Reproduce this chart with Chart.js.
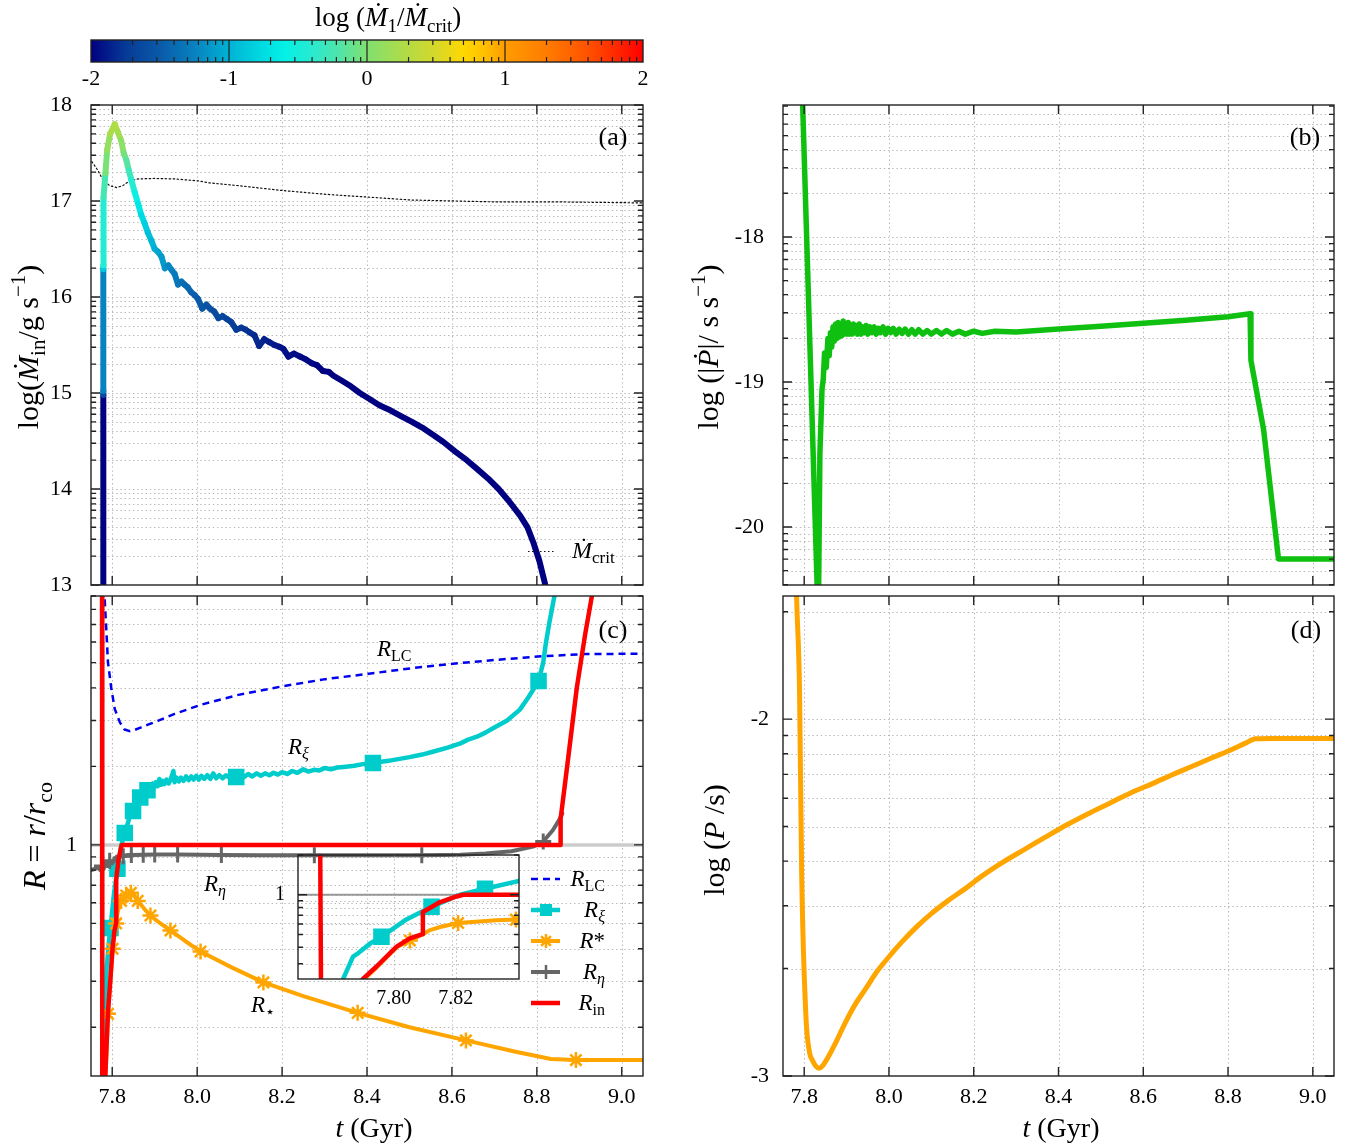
<!DOCTYPE html>
<html>
<head>
<meta charset="utf-8">
<title>Accretion and spin evolution</title>
<script src="https://cdn.jsdelivr.net/npm/chart.js@4.4.1/dist/chart.umd.min.js"></script>
<style>
  body { margin: 0; background: #fff; }
  #page { position: relative; width: 1352px; height: 1148px; }
  #page canvas { position: absolute; left: 0; top: 0; }
</style>
</head>
<body>
<div id="page">
  <canvas id="cbar" width="1352" height="1148"></canvas>
  <canvas id="pa" width="1352" height="1148"></canvas>
  <canvas id="pb" width="1352" height="1148"></canvas>
  <canvas id="pc" width="1352" height="1148"></canvas>
  <canvas id="pd" width="1352" height="1148"></canvas>
  <canvas id="pin" width="1352" height="1148"></canvas>
</div>
<script>
var W = 1352, H = 1148;
var FAMILY = '"Liberation Serif", "Times New Roman", serif';

// shared time axis (Gyr)
var tMin = 7.75, tMax = 9.05;
var timeTicks = [7.8, 8.0, 8.2, 8.4, 8.6, 8.8, 9.0];

// colour bar, log(Mdot_1/Mdot_crit)
var barTicks = [-2, -1, 0, 1, 2];
var cmapStops = [
  [-2, '#000080'], [-1.75, '#063a96'], [-1.5, '#0a5aa8'], [-1.25, '#0882c0'],
  [-1, '#00b2d4'], [-0.75, '#00dce2'], [-0.6, '#04f0e6'], [-0.4, '#28ead0'],
  [-0.2, '#50e4a8'], [0, '#80e070'], [0.25, '#acdc4a'], [0.5, '#d6d82a'],
  [0.7, '#ffd800'], [0.85, '#ffc000'], [1, '#ff9c00'], [1.3, '#ff7c00'],
  [1.6, '#ff5200'], [2, '#ff0000']
];

// (a) log Mdot_in (g/s), coloured by log(Mdot_1/Mdot_crit)
var tIn = [7.7790, 7.7790, 7.7790, 7.7790, 7.7791, 7.7795, 7.7840, 7.7880, 7.7950, 7.8060,
  7.8130, 7.8210, 7.8270, 7.8330, 7.8390, 7.8450, 7.8530, 7.8610, 7.8680, 7.8760,
  7.8840, 7.8920, 7.9000, 7.9080, 7.9160, 7.9240, 7.9320, 7.9400, 7.9470, 7.9550,
  7.9630, 7.9700, 7.9780, 7.9860, 7.9940, 8.0020, 8.0120, 8.0220, 8.0300, 8.0400,
  8.0500, 8.0600, 8.0700, 8.0800, 8.0920, 8.1040, 8.1140, 8.1240, 8.1350, 8.1460,
  8.1580, 8.1700, 8.1820, 8.1940, 8.2030, 8.2150, 8.2280, 8.2420, 8.2560, 8.2700,
  8.2820, 8.2960, 8.3100, 8.3210, 8.3400, 8.3620, 8.3830, 8.4050, 8.4300, 8.4550,
  8.4800, 8.5060, 8.5300, 8.5570, 8.5800, 8.6080, 8.6350, 8.6590, 8.6850, 8.7100,
  8.7350, 8.7610, 8.7780, 8.7920, 8.8060, 8.8200, 8.8260];
var logMdotIn = [12.90, 14.98, 15.02, 16.29, 16.33, 17.04, 17.29, 17.53, 17.70, 17.80,
  17.72, 17.63, 17.50, 17.43, 17.32, 17.22, 17.09, 16.97, 16.86, 16.77,
  16.67, 16.59, 16.50, 16.47, 16.42, 16.30, 16.33, 16.28, 16.24, 16.13,
  16.16, 16.13, 16.10, 16.05, 16.02, 15.98, 15.88, 15.92, 15.88, 15.85,
  15.78, 15.80, 15.77, 15.74, 15.66, 15.68, 15.66, 15.63, 15.60, 15.49,
  15.56, 15.53, 15.50, 15.48, 15.46, 15.38, 15.41, 15.38, 15.35, 15.31,
  15.29, 15.23, 15.22, 15.18, 15.13, 15.07, 15.00, 14.94, 14.87, 14.82,
  14.76, 14.70, 14.64, 14.56, 14.49, 14.39, 14.30, 14.21, 14.11, 14.00,
  13.87, 13.72, 13.60, 13.44, 13.25, 13.00, 12.90];
var logRatio = [-2.00, -2.00, -1.25, -1.25, -0.45, -0.40, -0.10, 0.05, 0.20, 0.30,
  0.25, 0.15, 0.00, -0.10, -0.25, -0.35, -0.50, -0.62, -0.72, -0.80,
  -0.88, -0.95, -1.00, -1.05, -1.10, -1.15, -1.20, -1.25, -1.28, -1.32,
  -1.35, -1.38, -1.40, -1.43, -1.46, -1.49, -1.52, -1.55, -1.57, -1.60,
  -1.62, -1.64, -1.67, -1.70, -1.72, -1.75, -1.77, -1.79, -1.81, -1.83,
  -1.85, -1.87, -1.89, -1.90, -1.92, -1.93, -1.94, -1.95, -1.96, -1.97,
  -1.98, -1.99, -2.00, -2.00, -2.00, -2.00, -2.00, -2.00, -2.00, -2.00,
  -2.00, -2.00, -2.00, -2.00, -2.00, -2.00, -2.00, -2.00, -2.00, -2.00,
  -2.00, -2.00, -2.00, -2.00, -2.00, -2.00, -2.00];
var tCrit = [7.752, 7.766, 7.778, 7.794, 7.810, 7.825, 7.841, 7.861, 7.900, 7.947,
  8.002, 8.026, 8.097, 8.199, 8.302, 8.404, 8.506, 8.608, 8.710, 8.863, 9.050];
var logMdotCrit = [17.41, 17.32, 17.22, 17.16, 17.14, 17.16, 17.21, 17.23, 17.235, 17.23,
  17.21, 17.19, 17.16, 17.11, 17.07, 17.04, 17.01, 17.00, 16.99, 16.99, 16.98];

// (b) log |Pdot| (s/s)
var tPdot = [7.796, 7.831, 7.834, 7.837, 7.842, 7.845, 7.848, 7.852, 7.856, 7.859,
  7.862, 7.865, 7.868, 7.871, 7.874, 7.877, 7.880, 7.883, 7.886, 7.889,
  7.892, 7.895, 7.898, 7.901, 7.904, 7.907, 7.910, 7.913, 7.916, 7.919,
  7.922, 7.926, 7.930, 7.934, 7.938, 7.942, 7.946, 7.950, 7.955, 7.960,
  7.965, 7.970, 7.975, 7.980, 7.986, 7.992, 7.998, 8.004, 8.010, 8.017,
  8.024, 8.031, 8.038, 8.046, 8.054, 8.062, 8.070, 8.080, 8.090, 8.100,
  8.112, 8.124, 8.136, 8.150, 8.165, 8.180, 8.200, 8.220, 8.250, 8.300,
  8.400, 8.500, 8.600, 8.700, 8.800, 8.852, 8.854, 8.884, 8.919, 9.060];
var logPdot = [-17.05, -20.45, -20.45, -19.50, -19.05, -18.98, -18.80, -18.90, -18.70, -18.82,
  -18.66, -18.76, -18.62, -18.72, -18.60, -18.70, -18.59, -18.69, -18.60, -18.68,
  -18.58, -18.67, -18.60, -18.67, -18.59, -18.67, -18.61, -18.67, -18.60, -18.66,
  -18.61, -18.67, -18.60, -18.67, -18.62, -18.66, -18.61, -18.67, -18.62, -18.66,
  -18.62, -18.67, -18.63, -18.66, -18.62, -18.67, -18.63, -18.66, -18.63, -18.67,
  -18.635, -18.665, -18.635, -18.67, -18.64, -18.67, -18.64, -18.67, -18.645, -18.67,
  -18.645, -18.67, -18.645, -18.67, -18.65, -18.67, -18.65, -18.665, -18.65, -18.655,
  -18.635, -18.615, -18.595, -18.575, -18.55, -18.53, -18.85, -19.33, -20.22, -20.22];

// (d) log P (s)
var tP = [7.781, 7.782, 7.789, 7.794, 7.804, 7.812, 7.820, 7.828, 7.835, 7.843,
  7.855, 7.875, 7.895, 7.920, 7.946, 7.970, 7.997, 8.030, 8.067, 8.100,
  8.138, 8.180, 8.219, 8.270, 8.320, 8.370, 8.420, 8.470, 8.522, 8.570,
  8.623, 8.670, 8.724, 8.765, 8.805, 8.840, 8.865, 8.905, 9.060];
var logP = [-1.60, -1.655, -1.92, -2.43, -2.83, -2.93, -2.957, -2.973, -2.978, -2.972,
  -2.95, -2.905, -2.855, -2.80, -2.754, -2.71, -2.67, -2.625, -2.58, -2.545,
  -2.51, -2.475, -2.44, -2.40, -2.365, -2.33, -2.296, -2.265, -2.235, -2.207,
  -2.18, -2.155, -2.128, -2.107, -2.087, -2.068, -2.055, -2.054, -2.054];

// (c) radii in units of the corotation radius
var tLC = [7.7805, 7.782, 7.786, 7.790, 7.798, 7.806, 7.818, 7.829, 7.841, 7.853,
  7.868, 7.884, 7.910, 7.947, 8.010, 8.097, 8.199, 8.302, 8.404, 8.506,
  8.608, 8.710, 8.812, 8.914, 9.060];
var rLC = [12, 8.9, 6.7, 5.0, 3.96, 3.32, 2.95, 2.77, 2.73, 2.76,
  2.82, 2.89, 3.0, 3.18, 3.45, 3.76, 4.05, 4.32, 4.53, 4.76,
  4.96, 5.13, 5.29, 5.39, 5.41];

var tXi = [7.7815, 7.7836, 7.7868, 7.7884, 7.7925, 7.796, 7.8036, 7.8122, 7.8214, 7.8295,
  7.8405, 7.849, 7.858, 7.866, 7.872, 7.877, 7.883, 7.887, 7.891, 7.895,
  7.899, 7.903, 7.907, 7.911, 7.915, 7.919, 7.923, 7.928, 7.933, 7.938,
  7.944, 7.947, 7.952, 7.957, 7.962, 7.968, 7.974, 7.980, 7.986, 7.992,
  7.998, 8.004, 8.010, 8.017, 8.024, 8.031, 8.038, 8.045, 8.052, 8.060,
  8.068, 8.076, 8.084, 8.092, 8.100, 8.110, 8.120, 8.130, 8.140, 8.150,
  8.160, 8.170, 8.180, 8.190, 8.200, 8.212, 8.224, 8.236, 8.250, 8.262,
  8.275, 8.288, 8.300, 8.315, 8.330, 8.345, 8.370, 8.390, 8.414, 8.450,
  8.500, 8.530, 8.557, 8.590, 8.620, 8.640, 8.659, 8.680, 8.700, 8.730,
  8.760, 8.781, 8.804, 8.815, 8.821, 8.830, 8.842, 8.850];
var rXi = [0.12, 0.23, 0.34, 0.36, 0.43, 0.48, 0.64, 0.81, 1.0, 1.11,
  1.27, 1.35, 1.46, 1.52, 1.60, 1.56, 1.62, 1.70, 1.63, 1.72,
  1.66, 1.74, 1.68, 1.79, 1.70, 1.76, 1.71, 1.78, 1.72, 1.79,
  1.92, 1.74, 1.81, 1.75, 1.81, 1.76, 1.83, 1.77, 1.83, 1.78,
  1.84, 1.78, 1.84, 1.79, 1.85, 1.79, 1.88, 1.80, 1.85, 1.80,
  1.85, 1.81, 1.85, 1.82, 1.86, 1.82, 1.87, 1.83, 1.88, 1.84,
  1.88, 1.85, 1.89, 1.86, 1.90, 1.87, 1.92, 1.89, 1.95, 1.91,
  1.94, 1.93, 1.97, 1.95, 1.98, 1.99, 2.01, 2.04, 2.06, 2.10,
  2.17, 2.22, 2.28, 2.36, 2.45, 2.54, 2.60, 2.70, 2.82, 3.00,
  3.30, 3.70, 4.25, 5.0, 5.9, 7.2, 9.1, 11];

var tStar = [7.7835, 7.7900, 7.7944, 7.8009, 7.8052, 7.8093, 7.8117, 7.8150, 7.8208, 7.8310,
  7.8330, 7.8395, 7.8440, 7.8520, 7.8600, 7.8750, 7.8900, 7.9100, 7.9370, 7.9700,
  8.0080, 8.0800, 8.1560, 8.2500, 8.3780, 8.5000, 8.6330, 8.7500, 8.8330, 8.8920, 9.0600];
var rStar = [0.12, 0.225, 0.28, 0.40, 0.45, 0.50, 0.54, 0.57, 0.61, 0.635,
  0.64, 0.648, 0.655, 0.64, 0.61, 0.57, 0.536, 0.505, 0.47, 0.43,
  0.39, 0.34, 0.297, 0.263, 0.227, 0.20, 0.178, 0.161, 0.151, 0.1496, 0.1496];

var tEta = [7.750, 7.760, 7.766, 7.772, 7.776, 7.780, 7.785, 7.789, 7.794, 7.800,
  7.806, 7.810, 7.816, 7.826, 7.835, 7.845, 7.873, 7.900, 7.954, 8.057,
  8.150, 8.276, 8.400, 8.529, 8.620, 8.680, 8.740, 8.791, 8.815, 8.838,
  8.853, 8.860];
var rEta = [0.80, 0.81, 0.82, 0.80, 0.83, 0.81, 0.86, 0.83, 0.87, 0.85,
  0.89, 0.87, 0.90, 0.905, 0.912, 0.915, 0.917, 0.918, 0.918, 0.915,
  0.913, 0.912, 0.912, 0.912, 0.916, 0.926, 0.945, 0.985, 1.03, 1.14,
  1.25, 1.32];

var tRin = [7.7760, 7.7766, 7.7830, 7.7835, 7.7900, 7.7944, 7.8009, 7.8052, 7.8093, 7.8094,
  7.8150, 7.8203, 7.8225, 8.8550, 8.8560, 8.8730, 8.8940, 8.9140, 8.9300, 8.9350];
var rIn = [12, 0.05, 0.05, 0.128, 0.23, 0.286, 0.404, 0.467, 0.503, 0.74,
  0.88, 0.97, 1.0, 1.0, 1.26, 2.1, 3.99, 6.45, 9.07, 11];

// which samples carry a marker symbol
var markXi = [7.796, 7.8122, 7.8295, 7.849, 7.866, 7.883, 8.092, 8.414, 8.804];
var markStar = [7.7900, 7.8009, 7.8093, 7.8208, 7.8330, 7.8440, 7.8600, 7.8900, 7.9370, 8.0080, 8.1560, 8.3780, 8.6330, 8.8920];
var markEta = [7.776, 7.794, 7.826, 7.845, 7.873, 7.900, 7.954, 8.057, 8.276, 8.529, 8.815];
var markXiZoom = [7.796, 7.8122, 7.8295];
var markStarZoom = [7.8052, 7.8208, 7.8395];

// zoomed window on the onset of accretion
var zoomTMin = 7.769, zoomTMax = 7.8405;
var zoomTicks = [7.80, 7.82];

// ---------------------------------------------------------------

function hex(c) { return [parseInt(c.substr(1, 2), 16), parseInt(c.substr(3, 2), 16), parseInt(c.substr(5, 2), 16)]; }
function cmap(v) {
  v = Math.max(-2, Math.min(2, v));
  for (var i = 1; i < cmapStops.length; i++) {
    if (v <= cmapStops[i][0]) {
      var a = cmapStops[i - 1], b = cmapStops[i];
      var f = (v - a[0]) / (b[0] - a[0]), ca = hex(a[1]), cb = hex(b[1]);
      return 'rgb(' + ca.map(function (x, k) { return Math.round(x + (cb[k] - x) * f); }).join(',') + ')';
    }
  }
  return cmapStops[cmapStops.length - 1][1];
}

function pts(ts, vs) { return ts.map(function (t, i) { return { x: t, y: vs[i] }; }); }
function markerAt(list, r) { return function (c) { return c.raw && list.indexOf(c.raw.x) >= 0 ? r : 0; }; }

// integer decades with log-spaced minor ticks, for axes that already hold log values
function decadeTicks(lo, hi, min, max) {
  var out = [];
  for (var d = lo; d <= hi; d++) {
    out.push({ value: d, major: true });
    for (var k = 2; k < 10; k++) out.push({ value: d + Math.log10(k), major: false });
  }
  return out.filter(function (t) { return t.value >= min - 1e-9 && t.value <= max + 1e-9; });
}
// same thing for a real logarithmic axis
function logTicks(min, max) {
  var out = [];
  [0.1, 1].forEach(function (d) {
    for (var k = 1; k < 10; k++) out.push({ value: +(d * k).toFixed(3), major: d * k === 1 });
  });
  return out.filter(function (t) { return t.value >= min - 1e-9 && t.value <= max + 1e-9; });
}

// text with italics, sub- and superscripts; parts = [[text, flags]]
function mathText(ctx, parts, x, y, size, align) {
  var segs = parts.map(function (p) {
    var k = p[1] || '';
    var fs = (k.indexOf('_') >= 0 || k.indexOf('^') >= 0) ? Math.round(size * 0.7) : size;
    var font = (k.indexOf('i') >= 0 ? 'italic ' : '') + fs + 'px ' + FAMILY;
    ctx.font = font;
    return { t: p[0], k: k, font: font, w: ctx.measureText(p[0]).width };
  });
  var total = segs.reduce(function (s, g) { return s + g.w; }, 0);
  var cx = align === 'center' ? x - total / 2 : align === 'right' ? x - total : x;
  ctx.textAlign = 'left';
  ctx.textBaseline = 'alphabetic';
  segs.forEach(function (g) {
    ctx.font = g.font;
    var dy = g.k.indexOf('_') >= 0 ? size * 0.22 : g.k.indexOf('^') >= 0 ? -size * 0.42 : 0;
    ctx.fillText(g.t, cx, y + dy);
    cx += g.w;
  });
}
function vTitle(ctx, parts, x, y, size) {
  ctx.save();
  ctx.translate(x, y);
  ctx.rotate(-Math.PI / 2);
  mathText(ctx, parts, 0, 0, size, 'center');
  ctx.restore();
}

// dotted grid under the data, box and inward ticks on top of it
var frame = {
  id: 'frame',
  beforeDatasetsDraw: function (chart) {
    var ctx = chart.ctx, a = chart.chartArea, x = chart.scales.x, y = chart.scales.y;
    ctx.save();
    ctx.beginPath();
    x.ticks.forEach(function (t) {
      var p = Math.round(x.getPixelForValue(t.value)) + 0.5;
      if (p > a.left + 2 && p < a.right - 2) { ctx.moveTo(p, a.top); ctx.lineTo(p, a.bottom); }
    });
    y.ticks.forEach(function (t) {
      var p = Math.round(y.getPixelForValue(t.value)) + 0.5;
      if (p > a.top + 2 && p < a.bottom - 2) { ctx.moveTo(a.left, p); ctx.lineTo(a.right, p); }
    });
    ctx.strokeStyle = '#b8b8b8';
    ctx.lineWidth = 1.1;
    ctx.setLineDash([1.4, 2.8]);
    ctx.stroke();
    ctx.restore();
  },
  afterDatasetsDraw: function (chart, args, opts) {
    var ctx = chart.ctx, a = chart.chartArea, x = chart.scales.x, y = chart.scales.y;
    ctx.save();
    ctx.strokeStyle = '#222';
    ctx.lineWidth = 1.4;
    ctx.beginPath();
    if (opts.xMarks) x.ticks.forEach(function (t) {
      var p = x.getPixelForValue(t.value);
      ctx.moveTo(p, a.bottom); ctx.lineTo(p, a.bottom - 9);
      ctx.moveTo(p, a.top); ctx.lineTo(p, a.top + 9);
    });
    y.ticks.forEach(function (t) {
      var p = y.getPixelForValue(t.value), len = t.major ? 9 : 5;
      ctx.moveTo(a.left, p); ctx.lineTo(a.left + len, p);
      ctx.moveTo(a.right, p); ctx.lineTo(a.right - len, p);
    });
    ctx.stroke();
    ctx.strokeRect(a.left, a.top, a.right - a.left, a.bottom - a.top);
    ctx.restore();
  }
};

function panel(id, box, datasets, o, notes) {
  var yw = 60, xh = o.xLabels ? 40 : 0;
  return new Chart(document.getElementById(id), {
    type: 'line',
    data: { datasets: datasets },
    options: {
      responsive: false,
      animation: false,
      events: [],
      layout: { autoPadding: false, padding: { left: box[0] - yw, top: box[1], right: W - box[2], bottom: H - box[3] - xh } },
      elements: { line: { tension: 0, borderJoinStyle: 'round', borderCapStyle: 'round' }, point: { radius: 0, hoverRadius: 0 } },
      plugins: { legend: { display: false }, tooltip: { enabled: false }, frame: { xMarks: o.xMarks !== false } },
      scales: {
        x: {
          type: 'linear', min: o.xmin, max: o.xmax,
          afterBuildTicks: function (s) { s.ticks = o.xTicks.map(function (v) { return { value: v, major: true }; }); },
          afterFit: function (s) { s.height = xh; },
          grid: { display: false, drawTicks: false },
          border: { display: false },
          ticks: {
            display: !!o.xLabels, autoSkip: false, minRotation: 0, maxRotation: 0, padding: 8, color: '#000',
            font: { family: FAMILY, size: o.xFont || 22 },
            callback: function (v) { return v.toFixed(o.xDigits || 1); }
          }
        },
        y: {
          type: o.yType || 'linear', min: o.ymin, max: o.ymax,
          afterBuildTicks: function (s) { s.ticks = o.yTicks.map(function (t) { return { value: t.value, major: t.major }; }); },
          afterFit: function (s) { s.width = yw; },
          grid: { display: false, drawTicks: false },
          border: { display: false },
          ticks: {
            autoSkip: false, padding: o.yPad || 18, color: '#000',
            font: { family: FAMILY, size: o.yFont || 22 },
            callback: o.yLabel
          }
        }
      }
    },
    plugins: [frame, notes]
  });
}

function intLabel(v) { return Number.isInteger(v) ? String(v) : ''; }
function oneLabel(v) { return v === 1 ? '1' : ''; }

var boxA = [91, 105, 643, 585], boxB = [783, 105, 1334, 585];
var boxC = [91, 596, 643, 1076], boxD = [783, 596, 1334, 1076];
var boxZoom = [298, 855, 519, 979];
var tTitle = [['t', 'i'], [' (Gyr)', '']];

// ---- colour bar ----
new Chart(document.getElementById('cbar'), {
  type: 'line',
  data: { datasets: [] },
  options: {
    responsive: false, animation: false, events: [],
    layout: { autoPadding: false, padding: { left: 91, top: 40, right: W - 643, bottom: H - 62 - 30 } },
    plugins: { legend: { display: false }, tooltip: { enabled: false } },
    scales: {
      x: {
        type: 'linear', min: -2, max: 2,
        afterBuildTicks: function (s) { s.ticks = barTicks.map(function (v) { return { value: v }; }); },
        afterFit: function (s) { s.height = 30; },
        grid: { display: false, drawTicks: false }, border: { display: false },
        ticks: { autoSkip: false, maxRotation: 0, padding: 4, color: '#000', font: { family: FAMILY, size: 22 }, callback: function (v) { return String(v); } }
      },
      y: { display: false, min: 0, max: 1 }
    }
  },
  plugins: [{
    id: 'bar',
    beforeDatasetsDraw: function (chart) {
      var ctx = chart.ctx, a = chart.chartArea, x = chart.scales.x;
      var g = ctx.createLinearGradient(a.left, 0, a.right, 0);
      cmapStops.forEach(function (s) { g.addColorStop((x.getPixelForValue(s[0]) - a.left) / (a.right - a.left), s[1]); });
      ctx.save();
      ctx.fillStyle = g;
      ctx.fillRect(a.left, a.top, a.right - a.left, a.bottom - a.top);
      ctx.strokeStyle = '#222';
      ctx.lineWidth = 1.2;
      ctx.beginPath();
      for (var d = -2; d < 2; d++) {
        if (d > -2) { var m = x.getPixelForValue(d); ctx.moveTo(m, a.top); ctx.lineTo(m, a.bottom); }
        for (var k = 2; k < 10; k++) {
          var p = x.getPixelForValue(d + Math.log10(k));
          ctx.moveTo(p, a.top); ctx.lineTo(p, a.top + 5);
          ctx.moveTo(p, a.bottom); ctx.lineTo(p, a.bottom - 5);
        }
      }
      ctx.stroke();
      ctx.lineWidth = 1.4;
      ctx.strokeRect(a.left, a.top, a.right - a.left, a.bottom - a.top);
      ctx.fillStyle = '#000';
      mathText(ctx, [['log (', ''], ['Ṁ', 'i'], ['1', '_'], ['/', ''], ['Ṁ', 'i'], ['crit', '_'], [')', '']], 388, 26, 27, 'center');
      ctx.restore();
    }
  }]
});

// ---- (a) ----
var dsCrit = { data: pts(tCrit, logMdotCrit), borderColor: '#111', borderWidth: 1.2, borderDash: [1.5, 2.5], order: 1 };
panel('pa', boxA, [
  {
    data: pts(tIn, logMdotIn), borderWidth: 6, borderColor: cmap(-2), order: 0,
    segment: { borderColor: function (c) { return cmap((logRatio[c.p0DataIndex] + logRatio[c.p1DataIndex]) / 2); } }
  },
  dsCrit
], {
  xmin: tMin, xmax: tMax, xTicks: timeTicks, ymin: 13, ymax: 18,
  yTicks: decadeTicks(13, 18, 13, 18), yLabel: intLabel, yPad: 19
}, {
  id: 'notesA',
  afterDraw: function (chart) {
    var ctx = chart.ctx;
    ctx.save();
    ctx.fillStyle = '#000';
    vTitle(ctx, [['log(', ''], ['Ṁ', 'i'], ['in', '_'], ['/g s', ''], ['−1', '^'], [')', '']], 38, 347, 30);
    mathText(ctx, [['(a)', '']], 613, 145, 26, 'center');
    ctx.strokeStyle = dsCrit.borderColor;
    ctx.lineWidth = dsCrit.borderWidth;
    ctx.setLineDash(dsCrit.borderDash);
    ctx.beginPath(); ctx.moveTo(528, 551.5); ctx.lineTo(554, 551.5); ctx.stroke();
    mathText(ctx, [['Ṁ', 'i'], ['crit', '_']], 572, 558, 24, 'left');
    ctx.restore();
  }
});

// ---- (b) ----
panel('pb', boxB, [
  { data: pts(tPdot, logPdot), borderColor: '#10c010', borderWidth: 5.5 }
], {
  xmin: tMin, xmax: tMax, xTicks: timeTicks, ymin: -20.40, ymax: -17.09,
  yTicks: decadeTicks(-21, -18, -20.40, -17.09), yLabel: intLabel, yPad: 19
}, {
  id: 'notesB',
  afterDraw: function (chart) {
    var ctx = chart.ctx;
    ctx.save();
    ctx.fillStyle = '#000';
    vTitle(ctx, [['log (|', ''], ['Ṗ', 'i'], ['|/ s s', ''], ['−1', '^'], [')', '']], 718, 347, 30);
    mathText(ctx, [['(b)', '']], 1305, 145, 26, 'center');
    ctx.restore();
  }
});

// ---- (c) ----
function radiusSets(zoom) {
  var sets = [
    { label: 'unity', data: [{ x: tMin - 0.1, y: 1 }, { x: tMax + 0.1, y: 1 }], borderColor: zoom ? '#999999' : '#cccccc', borderWidth: zoom ? 2 : 3.5, order: 9 },
    { label: 'Rxi', data: pts(tXi, rXi), borderColor: '#00cccc', borderWidth: 4.5, pointStyle: 'rect',
      pointRadius: markerAt(zoom ? markXiZoom : markXi, 8.5), pointBackgroundColor: '#00cccc', pointBorderColor: '#00cccc', order: 4 },
    { label: 'Rstar', data: pts(tStar, rStar), borderColor: '#ffa500', borderWidth: 4, pointStyle: 'star',
      pointRadius: markerAt(zoom ? markStarZoom : markStar, 8), pointBorderColor: '#ffa500', pointBorderWidth: 2.5, order: 3 },
    { label: 'Rin', data: pts(tRin, rIn), borderColor: '#ff0000', borderWidth: 4.5, order: 1 }
  ];
  if (!zoom) {
    sets.push({ label: 'RLC', data: pts(tLC, rLC), borderColor: '#0000ee', borderWidth: 2.5, borderDash: [7, 5], borderCapStyle: 'butt', order: 5 });
    sets.push({ label: 'Reta', data: pts(tEta, rEta), borderColor: '#666666', borderWidth: 4, pointStyle: 'cross',
      pointRadius: markerAt(markEta, 8), pointBorderColor: '#666666', pointBorderWidth: 3, order: 2 });
  }
  return sets;
}

function keyMarker(ctx, style, x, y, color) {
  ctx.save();
  ctx.strokeStyle = color; ctx.fillStyle = color; ctx.lineWidth = 2.5; ctx.setLineDash([]);
  if (style === 'rect') {
    ctx.fillRect(x - 6, y - 6, 12, 12);
  } else if (style === 'star' || style === 'cross') {
    var r = 7, d = r * Math.SQRT1_2;
    ctx.beginPath();
    ctx.moveTo(x - r, y); ctx.lineTo(x + r, y); ctx.moveTo(x, y - r); ctx.lineTo(x, y + r);
    if (style === 'star') { ctx.moveTo(x - d, y - d); ctx.lineTo(x + d, y + d); ctx.moveTo(x - d, y + d); ctx.lineTo(x + d, y - d); }
    ctx.stroke();
  }
  ctx.restore();
}

var keyRows = [
  ['RLC', [['R', 'i'], ['LC', '_']]],
  ['Rxi', [['R', 'i'], ['ξ', '_i']]],
  ['Rstar', [['R', 'i'], ['*', '']]],
  ['Reta', [['R', 'i'], ['η', '_i']]],
  ['Rin', [['R', 'i'], ['in', '_']]]
];

panel('pc', boxC, radiusSets(false), {
  xmin: tMin, xmax: tMax, xTicks: timeTicks, xLabels: true, yType: 'logarithmic', ymin: 0.13, ymax: 9,
  yTicks: logTicks(0.13, 9), yLabel: oneLabel, yPad: 14
}, {
  id: 'notesC',
  afterDraw: function (chart) {
    var ctx = chart.ctx;
    ctx.save();
    ctx.fillStyle = '#000';
    vTitle(ctx, [['R', 'i'], [' = ', ''], ['r', 'i'], ['/', ''], ['r', 'i'], ['co', '_']], 45, 836, 32);
    mathText(ctx, tTitle, 374, 1137, 28, 'center');
    mathText(ctx, [['(c)', '']], 613, 638, 26, 'center');
    mathText(ctx, [['R', 'i'], ['LC', '_']], 377, 656, 23, 'left');
    mathText(ctx, [['R', 'i'], ['ξ', '_i']], 288, 754, 23, 'left');
    mathText(ctx, [['R', 'i'], ['η', '_i']], 204, 891, 23, 'left');
    mathText(ctx, [['R', 'i'], ['⋆', '_']], 251, 1012, 23, 'left');
    // key
    keyRows.forEach(function (row, i) {
      var ds = chart.data.datasets.filter(function (d) { return d.label === row[0]; })[0];
      var y = 879 + 31 * i;
      ctx.save();
      ctx.strokeStyle = ds.borderColor;
      ctx.lineWidth = ds.borderWidth;
      ctx.setLineDash(ds.borderDash || []);
      ctx.beginPath(); ctx.moveTo(531, y); ctx.lineTo(560, y); ctx.stroke();
      ctx.restore();
      if (ds.pointStyle) keyMarker(ctx, ds.pointStyle, 546, y, ds.borderColor);
      mathText(ctx, row[1], 605, y + 7, 23, 'right');
    });
    ctx.restore();
  }
});

// ---- (d) ----
panel('pd', boxD, [
  { data: pts(tP, logP), borderColor: '#ffa500', borderWidth: 5, cubicInterpolationMode: 'monotone' }
], {
  xmin: tMin, xmax: tMax, xTicks: timeTicks, xLabels: true, ymin: -3, ymax: -1.655,
  yTicks: decadeTicks(-3, -2, -3, -1.655), yLabel: intLabel, yPad: 14
}, {
  id: 'notesD',
  afterDraw: function (chart) {
    var ctx = chart.ctx;
    ctx.save();
    ctx.fillStyle = '#000';
    vTitle(ctx, [['log (', ''], ['P', 'i'], [' /s)', '']], 724, 840, 30);
    mathText(ctx, tTitle, 1061, 1137, 28, 'center');
    mathText(ctx, [['(d)', '']], 1306, 638, 26, 'center');
    ctx.restore();
  }
});

// ---- zoom on the onset, inside (c) ----
panel('pin', boxZoom, radiusSets(true), {
  xmin: zoomTMin, xmax: zoomTMax, xTicks: zoomTicks, xLabels: true, xDigits: 2, xFont: 20, xMarks: false,
  yType: 'logarithmic', ymin: 0.23, ymax: 2, yTicks: logTicks(0.23, 2), yLabel: oneLabel, yPad: 13, yFont: 20
}, { id: 'notesZoom' });
</script>
</body>
</html>
